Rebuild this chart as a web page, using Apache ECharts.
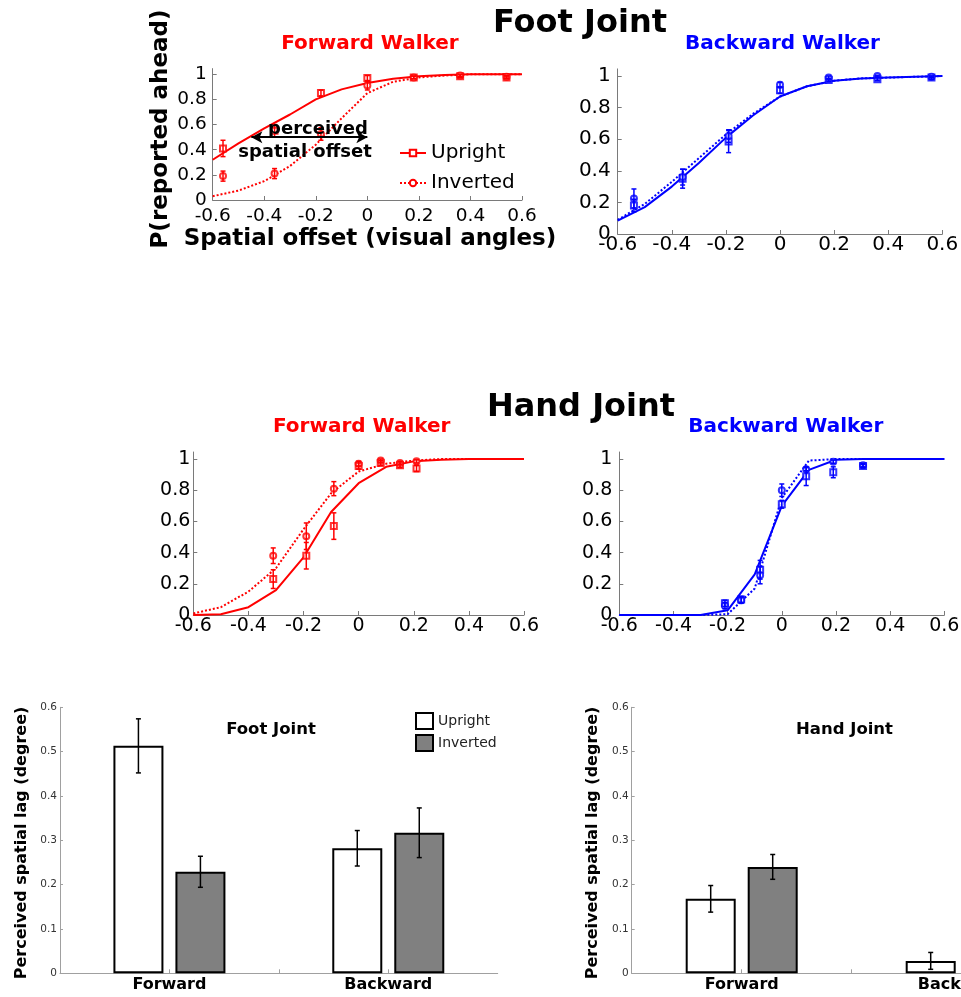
<!DOCTYPE html>
<html>
<head>
<meta charset="utf-8">
<title>Perceived spatial lag — foot and hand joints</title>
<script src="https://cdn.jsdelivr.net/npm/echarts@6.0.0/dist/echarts.min.js"></script>
<style>
  html, body { margin: 0; padding: 0; background: #fff; }
  #chart { width: 961px; height: 997px; }
</style>
</head>
<body>
<div id="chart"></div>
<script>
// ---- Psychometric fits, sampled every 0.1 deg of spatial offset ----
const fitX = [-0.6, -0.5, -0.4, -0.3, -0.2, -0.1, 0, 0.1, 0.2, 0.3, 0.4, 0.5, 0.6];

const footFwdUprightFit  = [0.32, 0.45, 0.57, 0.68, 0.80, 0.88, 0.93, 0.965, 0.985, 0.995, 1, 1, 1];
const footFwdInvertedFit = [0.03, 0.075, 0.15, 0.27, 0.44, 0.65, 0.85, 0.94, 0.975, 0.99, 1, 1, 1];
const footBwdUprightFit  = [0.085, 0.17, 0.30, 0.45, 0.61, 0.75, 0.87, 0.935, 0.97, 0.985, 0.99, 0.995, 1];
const footBwdInvertedFit = [0.09, 0.19, 0.33, 0.48, 0.63, 0.76, 0.87, 0.935, 0.97, 0.985, 0.99, 0.995, 1];
const handFwdUprightFit  = [0, 0.005, 0.05, 0.16, 0.37, 0.66, 0.845, 0.95, 0.985, 0.995, 1, 1, 1];
const handFwdInvertedFit = [0.01, 0.05, 0.15, 0.30, 0.55, 0.78, 0.92, 0.97, 0.99, 1, 1, 1, 1];
const handBwdUprightFit  = [0, 0, 0, 0, 0.03, 0.26, 0.70, 0.93, 0.995, 1, 1, 1, 1];
const handBwdInvertedFit = [0, 0, 0, 0, 0.005, 0.17, 0.75, 0.99, 1, 1, 1, 1, 1];

// ---- Observed proportions (mean and SE) ----
const footFwdX           = [-0.56, -0.36, -0.18, 0, 0.18, 0.36, 0.54];
const footFwdUpright     = [0.41, 0.55, 0.85, 0.97, 0.975, 0.985, 0.975];
const footFwdUprightErr  = [0.065, 0.05, 0.025, 0.02, 0.01, 0.01, 0.01];
const footFwdInverted    = [0.19, 0.21, 0.525, 0.91, 0.975, 0.99, 0.98];
const footFwdInvertedErr = [0.04, 0.04, 0.05, 0.035, 0.01, 0.01, 0.01];

const footBwdX           = [-0.54, -0.36, -0.19, 0, 0.18, 0.36, 0.56];
const footBwdUpright     = [0.18, 0.35, 0.585, 0.91, 0.975, 0.98, 0.99];
const footBwdUprightErr  = [0.04, 0.06, 0.07, 0.02, 0.01, 0.01, 0.01];
const footBwdInverted    = [0.225, 0.36, 0.62, 0.945, 0.99, 1.0, 0.995];
const footBwdInvertedErr = [0.06, 0.05, 0.04, 0.015, 0.01, 0.005, 0.005];

const handFwdX           = [-0.31, -0.19, -0.09, 0, 0.08, 0.15, 0.21];
const handFwdUpright     = [0.23, 0.38, 0.57, 0.955, 0.975, 0.96, 0.94];
const handFwdUprightErr  = [0.06, 0.085, 0.085, 0.02, 0.015, 0.015, 0.02];
const handFwdInverted    = [0.38, 0.505, 0.81, 0.97, 0.99, 0.975, 0.985];
const handFwdInvertedErr = [0.05, 0.085, 0.045, 0.015, 0.01, 0.01, 0.01];

const handBwdX           = [-0.21, -0.15, -0.08, 0, 0.09, 0.19, 0.3];
const handBwdUpright     = [0.075, 0.10, 0.29, 0.71, 0.89, 0.915, 0.955];
const handBwdUprightErr  = [0.02, 0.02, 0.06, 0.025, 0.06, 0.035, 0.01];
const handBwdInverted    = [0.06, 0.095, 0.255, 0.80, 0.935, 0.983, 0.96];
const handBwdInvertedErr = [0.02, 0.02, 0.055, 0.04, 0.01, 0.01, 0.01];

// Perceived spatial offset annotation (from / to, at P = 0.5)
const offsetArrowX = [-0.45, 0];
const offsetArrowY = 0.5;

// ---- Spatial lag summary (degrees) ----
const barCats             = ['Forward', 'Backward'];
const footLagUpright      = [0.513, 0.282];
const footLagUprightErr   = [0.061, 0.040];
const footLagInverted     = [0.229, 0.317];
const footLagInvertedErr  = [0.035, 0.056];
const handLagUpright      = [0.168, 0.028];
const handLagUprightErr   = [0.030, 0.019];
const handLagInverted     = [0.240, null];
const handLagInvertedErr  = [0.028, null];

// ---- Tick values ----
const offsetTicks = [-0.6, -0.4, -0.2, 0, 0.2, 0.4, 0.6];
const probTicks   = [0, 0.2, 0.4, 0.6, 0.8, 1];
const lagTicks    = [0, 0.1, 0.2, 0.3, 0.4, 0.5, 0.6];
const barSlotTicks = [1, 1.5, 2];

// ---- Styling ----
const FONT = '"DejaVu Sans", "Liberation Sans", sans-serif';
const RED = '#ff0000';
const BLUE = '#0000ff';
const AXIS_GRAY = '#7a7a7a';
const BAR_AXIS_GRAY = '#a0a0a0';
const BAR_W = 50;

const pairs = (xs, ys) => xs.map((x, i) => [x, ys[i]]);
const triples = (xs, ys, es) => xs.map((x, i) => [x, ys[i], es[i]]);

function errorBars(capHalf, color, width, xShift) {
  return function (params, api) {
    const x = api.value(0), y = api.value(1), e = api.value(2);
    const hi = api.coord([x, y + e]);
    const lo = api.coord([x, y - e]);
    const cx = hi[0] + xShift;
    const style = { stroke: color, lineWidth: width, fill: null };
    return {
      type: 'group',
      children: [
        { type: 'line', shape: { x1: cx, y1: hi[1], x2: cx, y2: lo[1] }, style },
        { type: 'line', shape: { x1: cx - capHalf, y1: hi[1], x2: cx + capHalf, y2: hi[1] }, style },
        { type: 'line', shape: { x1: cx - capHalf, y1: lo[1], x2: cx + capHalf, y2: lo[1] }, style }
      ]
    };
  };
}

function offsetAxis(grid, fontSize, margin) {
  return {
    type: 'value', gridIndex: grid, min: -0.6, max: 0.6,
    axisLine: { show: true, onZero: false, lineStyle: { color: AXIS_GRAY, width: 1 } },
    axisTick: { show: true, inside: true, length: 4, customValues: offsetTicks, lineStyle: { color: AXIS_GRAY } },
    axisLabel: { show: true, customValues: offsetTicks, formatter: v => String(v), margin,
                 fontSize, fontFamily: FONT, color: '#000' },
    splitLine: { show: false }
  };
}

function probAxis(grid, fontSize, margin) {
  return {
    type: 'value', gridIndex: grid, min: 0, max: 1.045,
    axisLine: { show: true, onZero: false, lineStyle: { color: AXIS_GRAY, width: 1 } },
    axisTick: { show: true, inside: true, length: 4, customValues: probTicks, lineStyle: { color: AXIS_GRAY } },
    axisLabel: { show: true, customValues: probTicks, formatter: v => String(v), margin,
                 fontSize, fontFamily: FONT, color: '#000' },
    splitLine: { show: false }
  };
}

function lagCatAxis(grid) {
  return {
    type: 'category', gridIndex: grid, data: barCats,
    axisLine: { show: true, onZero: false, lineStyle: { color: BAR_AXIS_GRAY, width: 1 } },
    axisTick: { show: false },
    axisLabel: { margin: 4, fontSize: 16, fontWeight: 'bold', fontFamily: FONT, color: '#000' },
    splitLine: { show: false }
  };
}

function lagSlotAxis(grid) {
  return {
    type: 'value', gridIndex: grid, min: 0.5, max: 2.5, position: 'bottom',
    axisLine: { show: false },
    axisTick: { show: true, inside: true, length: 4, customValues: barSlotTicks, lineStyle: { color: BAR_AXIS_GRAY } },
    axisLabel: { show: false },
    splitLine: { show: false }
  };
}

function lagValueAxis(grid) {
  return {
    type: 'value', gridIndex: grid, min: 0, max: 0.6,
    axisLine: { show: true, onZero: false, lineStyle: { color: BAR_AXIS_GRAY, width: 1 } },
    axisTick: { show: true, inside: true, length: 3, customValues: lagTicks, lineStyle: { color: BAR_AXIS_GRAY } },
    axisLabel: { show: true, customValues: lagTicks, formatter: v => String(v), margin: 3,
                 fontSize: 10.5, fontFamily: FONT, color: '#333' },
    splitLine: { show: false }
  };
}

// One psychometric panel: two fitted curves, two marker sets, two error-bar sets
function psychPanel(idx, color, upFit, invFit, xs, up, upErr, inv, invErr, extraInv) {
  const invLine = {
    name: 'Inverted', type: 'line', xAxisIndex: idx, yAxisIndex: idx,
    data: pairs(fitX, invFit), symbol: 'emptyCircle', symbolSize: 6, showSymbol: false,
    lineStyle: { color, width: 2, type: [2, 2] }, itemStyle: { color },
    silent: true, z: 2, animation: false
  };
  if (extraInv) Object.assign(invLine, extraInv);
  return [
    {
      name: 'Upright', type: 'line', xAxisIndex: idx, yAxisIndex: idx,
      data: pairs(fitX, upFit), symbol: 'emptyRect', symbolSize: 6, showSymbol: false,
      lineStyle: { color, width: 2, type: 'solid' }, itemStyle: { color },
      silent: true, z: 2, animation: false
    },
    invLine,
    {
      name: 'Upright', type: 'scatter', xAxisIndex: idx, yAxisIndex: idx,
      data: pairs(xs, up), symbol: 'emptyRect', symbolSize: 6,
      itemStyle: { color, borderWidth: 1.5 }, silent: true, z: 3
    },
    {
      name: 'Inverted', type: 'scatter', xAxisIndex: idx, yAxisIndex: idx,
      data: pairs(xs, inv), symbol: 'emptyCircle', symbolSize: 6,
      itemStyle: { color, borderWidth: 1.5 }, silent: true, z: 3
    },
    {
      type: 'custom', xAxisIndex: idx, yAxisIndex: idx, silent: true, z: 4,
      renderItem: errorBars(2.5, color, 1.5, 0), encode: { x: 0, y: 1 },
      data: triples(xs, up, upErr)
    },
    {
      type: 'custom', xAxisIndex: idx, yAxisIndex: idx, silent: true, z: 4,
      renderItem: errorBars(2.5, color, 1.5, 0), encode: { x: 0, y: 1 },
      data: triples(xs, inv, invErr)
    }
  ];
}

// One bar panel with grouped Upright / Inverted bars and SE bars
function lagPanel(idx, up, upErr, inv, invErr) {
  const slot = BAR_W * 1.24 / 2;
  const cats = barCats.map((c, i) => i);
  const keep = (vals, errs) => cats.filter(i => vals[i] != null).map(i => [i, vals[i], errs[i]]);
  return [
    {
      name: 'Upright', type: 'bar', xAxisIndex: idx, yAxisIndex: idx,
      data: up, barWidth: BAR_W, barGap: '24%', silent: true,
      itemStyle: { color: '#ffffff', borderColor: '#000', borderWidth: 2 }
    },
    {
      name: 'Inverted', type: 'bar', xAxisIndex: idx, yAxisIndex: idx,
      data: inv, barWidth: BAR_W, barGap: '24%', silent: true,
      itemStyle: { color: '#808080', borderColor: '#000', borderWidth: 2 }
    },
    {
      type: 'custom', xAxisIndex: idx, yAxisIndex: idx, silent: true, z: 5,
      renderItem: errorBars(2.5, '#000', 1.5, -slot), encode: { x: 0, y: 1 },
      data: keep(up, upErr)
    },
    {
      type: 'custom', xAxisIndex: idx, yAxisIndex: idx, silent: true, z: 5,
      renderItem: errorBars(2.5, '#000', 1.5, slot), encode: { x: 0, y: 1 },
      data: keep(inv, invErr)
    }
  ];
}

function label(text, x, y, size, color, opts) {
  const font = (opts && opts.bold === false ? '' : 'bold ') + size + 'px ' + FONT;
  return Object.assign({
    type: 'text', x, y, silent: true, z: 20,
    style: { text, font, fill: color, align: 'center', verticalAlign: 'middle',
             textAlign: 'center', textVerticalAlign: 'middle' }
  }, opts && opts.rotation ? { rotation: opts.rotation } : {});
}

const series = [].concat(
  psychPanel(0, RED, footFwdUprightFit, footFwdInvertedFit, footFwdX,
             footFwdUpright, footFwdUprightErr, footFwdInverted, footFwdInvertedErr, {
    markLine: {
      silent: true, symbol: ['arrow', 'arrow'], symbolSize: [9, 11], label: { show: false },
      lineStyle: { color: '#000', width: 2, type: 'solid' },
      emphasis: { disabled: true },
      data: [[{ coord: [offsetArrowX[0], offsetArrowY] }, { coord: [offsetArrowX[1], offsetArrowY] }]]
    }
  }),
  psychPanel(1, BLUE, footBwdUprightFit, footBwdInvertedFit, footBwdX,
             footBwdUpright, footBwdUprightErr, footBwdInverted, footBwdInvertedErr),
  psychPanel(2, RED, handFwdUprightFit, handFwdInvertedFit, handFwdX,
             handFwdUpright, handFwdUprightErr, handFwdInverted, handFwdInvertedErr),
  psychPanel(3, BLUE, handBwdUprightFit, handBwdInvertedFit, handBwdX,
             handBwdUpright, handBwdUprightErr, handBwdInverted, handBwdInvertedErr),
  lagPanel(4, footLagUpright, footLagUprightErr, footLagInverted, footLagInvertedErr),
  lagPanel(5, handLagUpright, handLagUprightErr, handLagInverted, handLagInvertedErr)
);

const option = {
  animation: false,
  backgroundColor: '#ffffff',
  textStyle: { fontFamily: FONT },
  grid: [
    { left: 212.7, top: 68.6, width: 309.3, height: 131.4, outerBoundsMode: 'none', containLabel: false },
    { left: 617.7, top: 68.9, width: 324.6, height: 165.1, outerBoundsMode: 'none', containLabel: false },
    { left: 193.3, top: 452, width: 330.7, height: 163, outerBoundsMode: 'none', containLabel: false },
    { left: 619.3, top: 452, width: 325, height: 163, outerBoundsMode: 'none', containLabel: false },
    { left: 60, top: 707.3, width: 437.7, height: 266, outerBoundsMode: 'none', containLabel: false },
    { left: 631.7, top: 707.3, width: 440, height: 266, outerBoundsMode: 'none', containLabel: false }
  ],
  xAxis: [
    offsetAxis(0, 18.5, 7),
    offsetAxis(1, 20, 1),
    offsetAxis(2, 19, 2),
    offsetAxis(3, 19, 2),
    lagCatAxis(4),
    lagCatAxis(5),
    lagSlotAxis(4),
    lagSlotAxis(5)
  ],
  yAxis: [
    probAxis(0, 18.5, 6),
    probAxis(1, 20, 7),
    probAxis(2, 19, 3),
    probAxis(3, 19, 7),
    lagValueAxis(4),
    lagValueAxis(5)
  ],
  legend: [
    {
      data: ['Upright', 'Inverted'], orient: 'vertical', left: 399, top: 143,
      itemWidth: 26, itemHeight: 8, itemGap: 10, padding: 0, selectedMode: false,
      textStyle: { fontSize: 20, fontFamily: FONT, color: '#000' }
    },
    {
      data: [
        { name: 'Upright', icon: 'rect', itemStyle: { color: '#ffffff', borderColor: '#000', borderWidth: 2 } },
        { name: 'Inverted', icon: 'rect', itemStyle: { color: '#808080', borderColor: '#000', borderWidth: 2 } }
      ],
      orient: 'vertical', left: 415, top: 712,
      itemWidth: 17, itemHeight: 16, itemGap: 4, padding: 0, selectedMode: false,
      textStyle: { fontSize: 14, fontFamily: FONT, color: '#222' }
    }
  ],
  graphic: [
    label('Foot Joint', 580, 24, 32, '#000'),
    label('Hand Joint', 581, 408, 32, '#000'),
    label('Forward Walker', 370, 44, 20, RED),
    label('Backward Walker', 782.5, 44, 20, BLUE),
    label('Forward Walker', 361.7, 427, 20, RED),
    label('Backward Walker', 785.8, 427, 20, BLUE),
    label('perceived', 318, 129, 18, '#000'),
    label('spatial offset', 305, 152, 18, '#000'),
    label('Spatial offset (visual angles)', 370, 239, 23, '#000'),
    label('P(reported ahead)', 161, 129, 23, '#000', { rotation: Math.PI / 2 }),
    label('Foot Joint', 271, 730, 16.5, '#000'),
    label('Hand Joint', 844.5, 730, 16.5, '#000'),
    label('Perceived spatial lag (degree)', 22, 843, 16, '#000', { rotation: Math.PI / 2 }),
    label('Perceived spatial lag (degree)', 592.5, 843, 16, '#000', { rotation: Math.PI / 2 })
  ],
  series
};

const chart = echarts.init(document.getElementById('chart'), null, { renderer: 'canvas' });
chart.setOption(option);
</script>
</body>
</html>
